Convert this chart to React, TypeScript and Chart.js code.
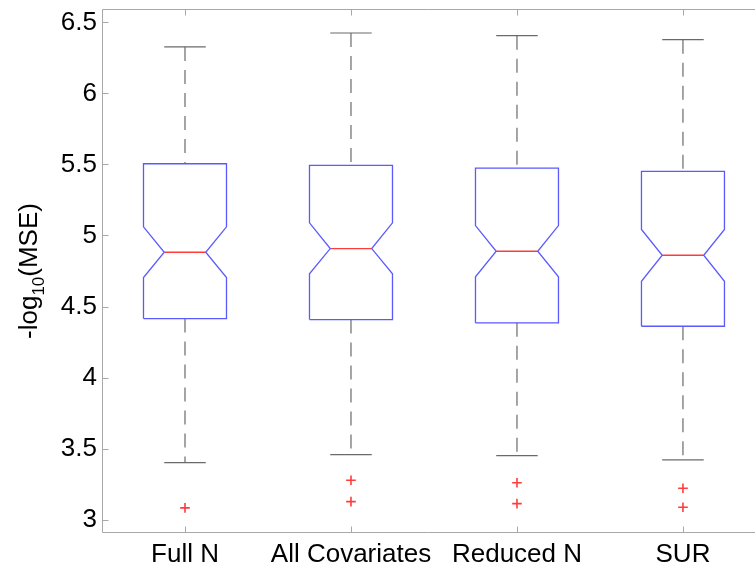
import React, { useEffect, useRef } from "react";
import { Chart, registerables } from "chart.js";

Chart.register(...registerables);

// ---- data ----
const categories = ["Full N", "All Covariates", "Reduced N", "SUR"];
const whiskerHigh = [6.327, 6.425, 6.406, 6.378];
const q3 = [5.505, 5.493, 5.474, 5.451];
const notchHigh = [5.061, 5.089, 5.07, 5.042];
const median = [4.882, 4.908, 4.889, 4.861];
const notchLow = [4.704, 4.73, 4.709, 4.678];
const q1 = [4.415, 4.408, 4.385, 4.361];
const whiskerLow = [3.401, 3.458, 3.451, 3.421];
const outliers = [[3.083], [3.277, 3.127], [3.26, 3.113], [3.221, 3.087]];
const yTicks = [3, 3.5, 4, 4.5, 5, 5.5, 6, 6.5];
const yMin = 2.906;
const yMax = 6.594;
const xMin = 0.5;
const xMax = 4.434;

// ---- styling ----
const BOX_HALF = 0.25;
const NOTCH_HALF = 0.125;
const CAP_HALF = 0.125;
const BLUE = "rgb(90,90,255)";
const RED = "rgb(255,60,60)";
const WHISKER = "#6a6a6a";
const AXIS = "#a8a8a8";
const FONT = "'Liberation Sans', Arial, Helvetica, sans-serif";

function buildDatasets() {
  const ds: any[] = [];
  categories.forEach((_, i) => {
    const x = i + 1;
    const l = x - BOX_HALF;
    const r = x + BOX_HALF;
    const nl = x - NOTCH_HALF;
    const nr = x + NOTCH_HALF;
    // notched box outline
    ds.push({
      data: [
        { x: l, y: q1[i] },
        { x: l, y: notchLow[i] },
        { x: nl, y: median[i] },
        { x: l, y: notchHigh[i] },
        { x: l, y: q3[i] },
        { x: r, y: q3[i] },
        { x: r, y: notchHigh[i] },
        { x: nr, y: median[i] },
        { x: r, y: notchLow[i] },
        { x: r, y: q1[i] },
        { x: l, y: q1[i] },
      ],
      showLine: true,
      borderColor: BLUE,
      borderWidth: 1.3,
      pointRadius: 0,
      tension: 0,
    });
    // median
    ds.push({
      data: [
        { x: nl, y: median[i] },
        { x: nr, y: median[i] },
      ],
      showLine: true,
      borderColor: RED,
      borderWidth: 1.3,
      pointRadius: 0,
    });
    // upper whisker (dashed)
    ds.push({
      data: [
        { x: x, y: whiskerHigh[i] },
        { x: x, y: q3[i] },
      ],
      showLine: true,
      borderColor: WHISKER,
      borderWidth: 1.2,
      borderDash: [14, 9],
      pointRadius: 0,
    });
    // lower whisker (dashed)
    ds.push({
      data: [
        { x: x, y: q1[i] },
        { x: x, y: whiskerLow[i] },
      ],
      showLine: true,
      borderColor: WHISKER,
      borderWidth: 1.2,
      borderDash: [14, 9],
      pointRadius: 0,
    });
    // caps
    ds.push({
      data: [
        { x: x - CAP_HALF, y: whiskerHigh[i] },
        { x: x + CAP_HALF, y: whiskerHigh[i] },
      ],
      showLine: true,
      borderColor: WHISKER,
      borderWidth: 1.2,
      pointRadius: 0,
    });
    ds.push({
      data: [
        { x: x - CAP_HALF, y: whiskerLow[i] },
        { x: x + CAP_HALF, y: whiskerLow[i] },
      ],
      showLine: true,
      borderColor: WHISKER,
      borderWidth: 1.2,
      pointRadius: 0,
    });
    // outliers
    ds.push({
      data: outliers[i].map((v) => ({ x: x, y: v })),
      showLine: false,
      pointStyle: "cross",
      pointRadius: 4.8,
      pointBorderColor: RED,
      pointBorderWidth: 1.6,
      borderColor: RED,
      backgroundColor: RED,
    });
  });
  return ds;
}

const framePlugin = {
  id: "matlabFrame",
  afterDraw(chart: any) {
    const { ctx, chartArea: a, scales } = chart;
    const L = Math.round(a.left) + 0.5;
    const T = Math.round(a.top) + 0.5;
    const B = Math.round(a.bottom) - 0.5;
    const R = a.right;
    ctx.save();
    ctx.strokeStyle = AXIS;
    ctx.lineWidth = 1;
    ctx.beginPath();
    ctx.moveTo(R, T);
    ctx.lineTo(L, T);
    ctx.lineTo(L, B);
    ctx.lineTo(R, B);
    ctx.stroke();
    // inner tick marks
    ctx.beginPath();
    scales.y.ticks.forEach((t: any) => {
      const py = Math.round(scales.y.getPixelForValue(t.value)) + 0.5;
      ctx.moveTo(L, py);
      ctx.lineTo(L + 6, py);
    });
    scales.x.ticks.forEach((t: any) => {
      const px = Math.round(scales.x.getPixelForValue(t.value)) + 0.5;
      ctx.moveTo(px, B);
      ctx.lineTo(px, B - 6);
      ctx.moveTo(px, T);
      ctx.lineTo(px, T + 6);
    });
    ctx.stroke();

    // y-axis title with subscript
    const big = "26px " + FONT;
    const small = "17px " + FONT;
    const parts = [
      { t: "-log", f: big, dy: 0 },
      { t: "10", f: small, dy: 7 },
      { t: "(MSE)", f: big, dy: 0 },
    ];
    let total = 0;
    parts.forEach((p) => {
      ctx.font = p.f;
      total += ctx.measureText(p.t).width;
    });
    const cy = (a.top + a.bottom) / 2;
    ctx.translate(37, cy);
    ctx.rotate(-Math.PI / 2);
    ctx.fillStyle = "#000";
    ctx.textBaseline = "alphabetic";
    ctx.textAlign = "left";
    let cx = -total / 2;
    parts.forEach((p) => {
      ctx.font = p.f;
      ctx.fillText(p.t, cx, p.dy);
      cx += ctx.measureText(p.t).width;
    });
    ctx.restore();
  },
};

export default function App() {
  const ref = useRef<HTMLCanvasElement | null>(null);
  useEffect(() => {
    document.body.style.margin = "0";
    const canvas = ref.current;
    if (!canvas) return;
    const chart = new Chart(canvas, {
      type: "scatter",
      data: { datasets: buildDatasets() },
      options: {
        animation: false,
        responsive: false,
        devicePixelRatio: 1,
        events: [],
        layout: { autoPadding: false, padding: { top: 9, left: 0, right: 0, bottom: 0 } },
        plugins: {
          legend: { display: false },
          tooltip: { enabled: false },
        },
        scales: {
          x: {
            type: "linear",
            min: xMin,
            max: xMax,
            grid: { display: false, drawTicks: false },
            border: { display: false },
            afterBuildTicks: (s: any) => {
              s.ticks = categories.map((_, i) => ({ value: i + 1 }));
            },
            afterFit: (s: any) => {
              s.height = 33;
              s.paddingLeft = 0;
              s.paddingRight = 0;
              s.paddingTop = 0;
              s.paddingBottom = 0;
            },
            ticks: {
              autoSkip: false,
              maxRotation: 0,
              padding: 6,
              color: "#000",
              font: { family: FONT, size: 26 },
              callback: (v: any) => categories[Math.round(Number(v)) - 1] ?? "",
            },
          },
          y: {
            type: "linear",
            min: yMin,
            max: yMax,
            grid: { display: false, drawTicks: false },
            border: { display: false },
            afterBuildTicks: (s: any) => {
              s.ticks = yTicks.map((v) => ({ value: v }));
            },
            afterFit: (s: any) => {
              s.width = 102;
              s.paddingLeft = 0;
              s.paddingRight = 0;
              s.paddingTop = 0;
              s.paddingBottom = 0;
            },
            ticks: {
              autoSkip: false,
              padding: 5,
              color: "#000",
              font: { family: FONT, size: 26 },
              callback: (v: any) => String(v),
            },
          },
        },
      },
      plugins: [framePlugin],
    } as any);
    return () => chart.destroy();
  }, []);
  return (
    <div style={{ width: 755, height: 566, background: "#fff" }}>
      <canvas ref={ref} width={755} height={566} style={{ display: "block" }} />
    </div>
  );
}
